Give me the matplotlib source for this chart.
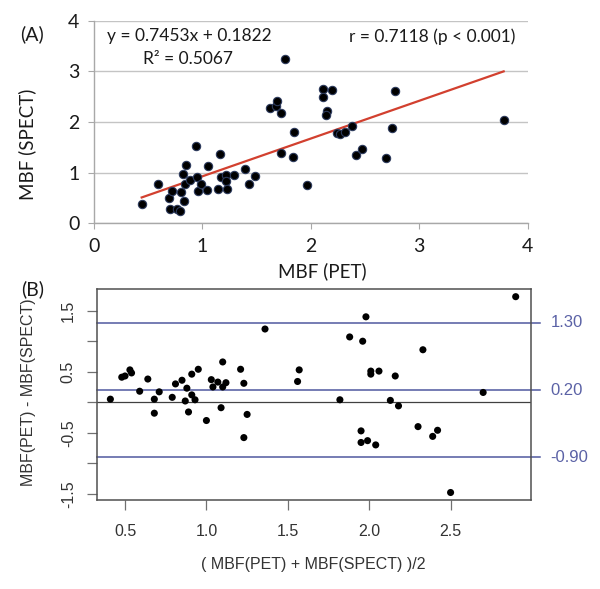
import numpy as np
import matplotlib
matplotlib.use("Agg")
import matplotlib.pyplot as plt

# (A) MBF PET vs SPECT
pet = [0.44, 0.59, 0.69, 0.70, 0.72, 0.77, 0.79, 0.80, 0.83, 0.84, 0.85, 0.82, 0.89,
       0.94, 0.95, 0.96, 0.99, 1.04, 1.05, 1.14, 1.16, 1.17, 1.22, 1.22, 1.23, 1.29,
       1.39, 1.43, 1.49, 1.62, 1.68, 1.69, 1.73, 1.76, 1.73, 1.85, 1.84, 1.97, 2.11,
       2.20, 2.11, 2.15, 2.14, 2.24, 2.27, 2.32, 2.38, 2.42, 2.47, 2.69, 2.75, 2.78, 3.78]
spect = [0.39, 0.77, 0.49, 0.29, 0.64, 0.28, 0.25, 0.62, 0.44, 0.77, 1.15, 0.98, 0.86,
         1.53, 0.92, 0.64, 0.78, 0.66, 1.13, 0.68, 1.36, 0.92, 0.96, 0.84, 0.68, 0.95,
         1.07, 0.77, 0.93, 2.28, 2.32, 2.41, 2.18, 3.24, 1.39, 1.81, 1.30, 0.75, 2.66,
         2.64, 2.50, 2.22, 2.13, 1.78, 1.76, 1.80, 1.93, 1.34, 1.46, 1.28, 1.88, 2.62, 2.04]
slope = 0.7453
intercept = 0.1822

# (B) Bland-Altman
ba_mean = [0.41, 0.48, 0.50, 0.53, 0.54, 0.59, 0.64, 0.68, 0.68, 0.71, 0.79, 0.81, 0.85,
           0.87, 0.88, 0.89, 0.91, 0.91, 0.93, 0.95, 1.00, 1.03, 1.04, 1.07, 1.09, 1.10,
           1.10, 1.12, 1.21, 1.23, 1.23, 1.25, 1.36, 1.56, 1.57, 1.82, 1.88, 1.96, 1.95,
           1.95, 1.98, 1.99, 2.01, 2.01, 2.04, 2.06, 2.13, 2.16, 2.18, 2.30, 2.33, 2.39,
           2.42, 2.50, 2.70, 2.90]
ba_diff = [0.05, 0.41, 0.43, 0.53, 0.48, 0.18, 0.38, -0.18, 0.05, 0.17, 0.08, 0.30, 0.36,
           0.02, 0.23, -0.16, 0.46, 0.12, 0.04, 0.54, -0.30, 0.37, 0.25, 0.33, -0.09, 0.66,
           0.25, 0.32, 0.54, -0.58, 0.31, -0.20, 1.20, 0.34, 0.53, 0.04, 1.07, 1.00, -0.47,
           -0.66, 1.40, -0.63, 0.51, 0.46, -0.70, 0.51, 0.03, 0.43, -0.06, -0.40, 0.86, -0.56,
           -0.46, -1.48, 0.16, 1.73]
limits = [1.30, 0.20, -0.90]
limit_labels = ["1.30", "0.20", "-0.90"]

W, H = 600, 589
fig = plt.figure(figsize=(W / 100, H / 100), dpi=100)


def px(x, y):
    return x / W, 1 - y / H


def box(l, t, r, b):
    return [l / W, 1 - b / H, (r - l) / W, (b - t) / H]


excel_font = "Lato"
r_font = "Liberation Sans"
txt = "#1a1a1a"

# ---------- panel A ----------
ax1 = fig.add_axes(box(94, 20.7, 527.5, 223.3))
ax1.set_xlim(0, 4)
ax1.set_ylim(0, 4)
ax1.set_yticks([0, 1, 2, 3, 4])
ax1.set_xticks([0, 1, 2, 3, 4])
ax1.grid(axis="y", color="#c4c4c4", lw=1)
ax1.set_axisbelow(True)
for s in ["top", "right"]:
    ax1.spines[s].set_visible(False)
for s in ["left", "bottom"]:
    ax1.spines[s].set_color("#a8a8a8")
    ax1.spines[s].set_linewidth(1)
ax1.tick_params(direction="out", length=4.5, width=0.8, color="#a8a8a8",
                labelsize=14, labelcolor=txt, pad=6)
for lab in ax1.get_xticklabels() + ax1.get_yticklabels():
    lab.set_fontfamily(excel_font)

xl = np.array([min(pet), max(pet)])
ax1.plot(xl, slope * xl + intercept, color="#d2402f", lw=1.6, zorder=2)
ax1.scatter(pet, spect, s=36, c="black", edgecolors="#2c3a5c", linewidths=0.8,
            zorder=3, clip_on=False)

fig.text(*px(106.7, 36.5), "y = 0.7453x + 0.1822", fontsize=12.5, family=excel_font,
         color=txt, ha="left", va="center")
fig.text(*px(143, 59.5), "R² = 0.5067", fontsize=12.5, family=excel_font,
         color=txt, ha="left", va="center")
fig.text(*px(515, 36.5), "r = 0.7118 (p < 0.001)", fontsize=12.5, family=excel_font,
         color=txt, ha="right", va="center")
fig.text(*px(32, 34), "(A)", fontsize=14, family=excel_font, color=txt,
         ha="center", va="center")
fig.text(*px(322, 271), "MBF (PET)", fontsize=13.5, family=excel_font, color=txt,
         ha="center", va="center")
fig.text(*px(27, 144), "MBF (SPECT)", fontsize=13.5, family=excel_font, color=txt,
         ha="center", va="center", rotation=90)

# ---------- panel B ----------
ax2 = fig.add_axes(box(96.7, 289.3, 531, 500))
ax2.set_xlim(0.326, 2.994)
ax2.set_ylim(-1.603, 1.851)
ax2.set_xticks([0.5, 1.0, 1.5, 2.0, 2.5])
ax2.set_xticklabels(["0.5", "1.0", "1.5", "2.0", "2.5"])
ax2.set_yticks([-1.5, -1.0, -0.5, 0, 0.5, 1.0, 1.5])
ax2.set_yticklabels(["-1.5", "", "-0.5", "", "0.5", "", "1.5"], rotation=90, va="center")
for s in ax2.spines.values():
    s.set_color("#505050")
    s.set_linewidth(1.1)
ax2.tick_params(direction="out", length=7, width=0.9, color="#707070",
                labelsize=11.5, labelcolor="#333333")
ax2.tick_params(axis="x", pad=10)
ax2.tick_params(axis="y", pad=8)
for lab in ax2.get_xticklabels() + ax2.get_yticklabels():
    lab.set_fontfamily(r_font)

ax2.axhline(0, color="#404040", lw=0.9, zorder=1)
for v, lab in zip(limits, limit_labels):
    ax2.plot([0, 1.021], [v, v], transform=ax2.get_yaxis_transform(),
             color="#4f589f", lw=1.1, clip_on=False, zorder=1)
    ax2.text(1.045, v, lab, transform=ax2.get_yaxis_transform(), fontsize=12,
             family=r_font, color="#5b62a6", ha="left", va="center")
ax2.scatter(ba_mean, ba_diff, s=26, c="black", edgecolors="none", zorder=3,
            clip_on=False)

fig.text(*px(313.7, 565), "( MBF(PET) + MBF(SPECT) )/2", fontsize=11.5, family=r_font,
         color="#333333", ha="center", va="center")
fig.text(*px(28.3, 391.7), "MBF(PET) - MBF(SPECT)", fontsize=11.5, family=r_font,
         color="#333333", ha="center", va="center", rotation=90)
fig.text(*px(32.5, 289), "(B)", fontsize=14, family=excel_font, color=txt,
         ha="center", va="center")

fig.savefig("out.png", dpi=100)
